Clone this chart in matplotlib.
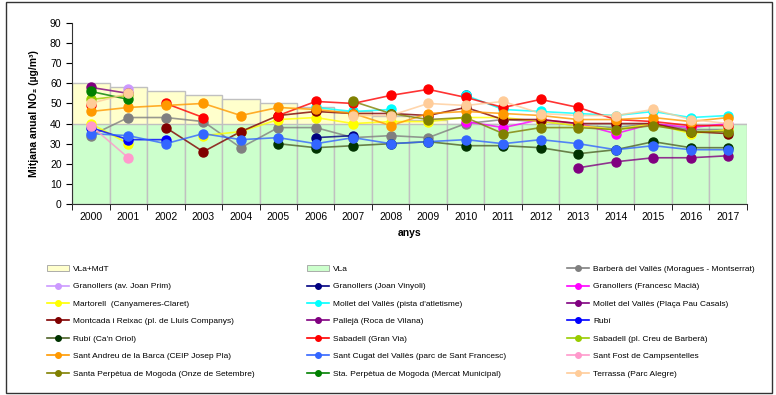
"""
Annual mean NO2 at the monitoring stations, 2000-2017, against the limit value.
"""
import numpy as np
import matplotlib.pyplot as plt
from matplotlib.patches import Patch, Rectangle
from matplotlib.lines import Line2D

plt.rcParams['font.family'] = ['Liberation Sans', 'DejaVu Sans']

nan = np.nan
years = [2000, 2001, 2002, 2003, 2004, 2005, 2006, 2007, 2008,
         2009, 2010, 2011, 2012, 2013, 2014, 2015, 2016, 2017]

# limit value and limit value + margin of tolerance
vla = [40, 40, 40, 40, 40, 40, 40, 40, 40, 40, 40, 40, 40, 40, 40, 40, 40, 40]
vla_mdt = [60, 58, 56, 54, 52, 50, 48, 46, 44, 42, 40, 40, 40, 40, 40, 40, 40, 40]

barbera = [34, 43, 43, 41, 28, 38, 38, 33, 34, 33, 40, 42, 41, 39, 38, 40, 37, 37]
gran_prim = [nan, 57, nan, nan, nan, nan, nan, nan, nan, nan, nan, nan, nan, nan, nan, nan, nan, nan]
gran_vinyoli = [nan, nan, nan, nan, nan, nan, 33, 34, nan, nan, 54, nan, nan, nan, nan, nan, nan, nan]
gran_macia = [nan, nan, nan, nan, nan, nan, nan, nan, nan, nan, 41, 38, 42, 40, 35, 40, 38, 40]
martorell = [40, 30, nan, 34, 36, 42, 43, 40, 41, 41, 43, 43, 41, 39, 37, 40, 35, 37]
mollet_pista = [nan, nan, nan, nan, nan, nan, 48, 46, 47, nan, 54, 47, 46, 45, 44, 46, 43, 44]
mollet_pau = [58, 55, nan, nan, nan, nan, nan, nan, nan, nan, nan, nan, nan, nan, nan, nan, nan, nan]
montcada = [nan, nan, 38, 26, 36, 44, 46, 45, 45, 44, 48, 42, 42, 40, 40, 40, 36, 35]
palleja = [nan, nan, nan, nan, nan, nan, nan, nan, nan, nan, nan, nan, nan, 18, 21, 23, 23, 24]
rubi = [38, 32, 32, nan, nan, nan, nan, nan, nan, nan, nan, nan, nan, nan, nan, nan, nan, nan]
rubi_oriol = [nan, nan, nan, nan, nan, 30, 28, 29, 30, 31, 29, 29, 28, 25, 27, 31, 28, 28]
sabadell_gv = [49, nan, 50, 43, nan, 44, 51, 50, 54, 57, 53, 48, 52, 48, 42, 41, 39, 39]
sabadell_cb = [52, 54, nan, nan, nan, nan, nan, nan, nan, nan, nan, nan, nan, nan, nan, nan, nan, nan]
sant_andreu = [46, 48, 49, 50, 44, 48, 47, 45, 39, 45, 46, 45, 44, 42, 42, 43, 41, 43]
sant_cugat = [35, 34, 30, 35, 32, 33, 30, 33, 30, 31, 32, 30, 32, 30, 27, 29, 27, 27]
sant_fost = [39, 23, nan, nan, nan, nan, nan, nan, nan, nan, nan, nan, nan, nan, nan, nan, nan, nan]
spm_onze = [nan, nan, nan, nan, nan, nan, nan, 51, 45, 42, 43, 35, 38, 38, 37, 39, 36, 36]
spm_mercat = [56, 52, nan, nan, nan, nan, nan, nan, nan, nan, nan, nan, nan, nan, nan, nan, nan, nan]
terrassa = [50, 55, nan, nan, nan, nan, nan, 44, 44, 50, 49, 51, 45, 44, 44, 47, 42, 40]

# (label, values, line colour, marker colour)
stations = [
    ("Barberà del Vallès (Moragues - Montserrat)", barbera, "#808080", "#808080"),
    ("Granollers (av. Joan Prim)", gran_prim, "#cc99ff", "#cc99ff"),
    ("Granollers (Joan Vinyoli)", gran_vinyoli, "#000080", "#000080"),
    ("Granollers (Francesc Macià)", gran_macia, "#ff00ff", "#ff00ff"),
    ("Martorell  (Canyameres-Claret)", martorell, "#ffff00", "#ffff00"),
    ("Mollet del Vallès (pista d'atletisme)", mollet_pista, "#00ffff", "#00ffff"),
    ("Mollet del Vallès (Plaça Pau Casals)", mollet_pau, "#800080", "#800080"),
    ("Montcada i Reixac (pl. de Lluís Companys)", montcada, "#800000", "#800000"),
    ("Pallejà (Roca de Vilana)", palleja, "#800080", "#800080"),
    ("Rubí", rubi, "#0000ff", "#0000ff"),
    ("Rubí (Ca'n Oriol)", rubi_oriol, "#4f6228", "#003300"),
    ("Sabadell (Gran Via)", sabadell_gv, "#ff0000", "#ff0000"),
    ("Sabadell (pl. Creu de Barberà)", sabadell_cb, "#99cc00", "#99cc00"),
    ("Sant Andreu de la Barca (CEIP Josep Pla)", sant_andreu, "#ff9900", "#ff9900"),
    ("Sant Cugat del Vallès (parc de Sant Francesc)", sant_cugat, "#3366ff", "#3366ff"),
    ("Sant Fost de Campsentelles", sant_fost, "#ff99cc", "#ff99cc"),
    ("Santa Perpètua de Mogoda (Onze de Setembre)", spm_onze, "#808000", "#808000"),
    ("Sta. Perpètua de Mogoda (Mercat Municipal)", spm_mercat, "#008000", "#008000"),
    ("Terrassa (Parc Alegre)", terrassa, "#ffcc99", "#ffcc99"),
]

fig = plt.figure(figsize=(7.76, 3.95), dpi=100)
ax = fig.add_axes([0.0928, 0.4835, 0.8698, 0.4583])

x = np.arange(len(years))
ax.bar(x, vla_mdt, width=1.0, color="#ffffcc", edgecolor="#c0c0c0", lw=1, zorder=1)
ax.bar(x, vla, width=1.0, color="#ccffcc", edgecolor="#c0c0c0", lw=1, zorder=1)

handles = [Patch(facecolor="#ffffcc", edgecolor="#a0a0a0", lw=0.6, label="VLa+MdT"),
           Patch(facecolor="#ccffcc", edgecolor="#a0a0a0", lw=0.6, label="VLa")]
for label, vals, lc, mc in stations:
    ax.plot(x, vals, color=lc, lw=1.2, alpha=0.8, zorder=2)
    ax.plot(x, vals, ls="", marker="o", ms=6.5, mfc=mc, mec=mc, zorder=3)
    handles.append(Line2D([], [], color=lc, lw=1.2, marker="o", ms=4,
                          mfc=mc, mec=mc, label=label))

ax.set_xlim(-0.5, len(years) - 0.5)
ax.set_ylim(0, 90)
ax.set_yticks(range(0, 91, 10))
ax.set_xticks(x)
ax.set_xticklabels([str(y) for y in years])
ax.set_xticks(list(x - 0.5) + [len(years) - 0.5], minor=True)
ax.tick_params(axis="x", which="major", length=0, labelsize=7.5, pad=6)
ax.tick_params(axis="x", which="minor", length=4, direction="out")
ax.tick_params(axis="y", length=4, direction="out", labelsize=7.5)
for side in ("top", "right"):
    ax.spines[side].set_visible(False)
ax.spines["left"].set_color("#333333")
ax.spines["bottom"].set_color("#333333")

ax.set_xlabel("anys", fontsize=7.5, fontweight="bold", labelpad=4)
ax.set_ylabel("Mitjana anual NO₂ (µg/m³)", fontsize=7.5, fontweight="bold", labelpad=8)

# legend: three columns, filled row by row, each column placed on its own
for col, left in enumerate([44, 304, 564]):
    fig.legend(handles=handles[col::3], loc="upper left",
               bbox_to_anchor=(left / 776, 0.337), ncol=1, frameon=False,
               fontsize=6, handlelength=2.6, labelspacing=1.15,
               handletextpad=0.5, borderaxespad=0)

fig.patches.append(Rectangle((0.008, 0.004), 0.987, 0.99, transform=fig.transFigure,
                             fill=False, edgecolor="#333333", lw=1))

plt.savefig("out.png", dpi=100)
